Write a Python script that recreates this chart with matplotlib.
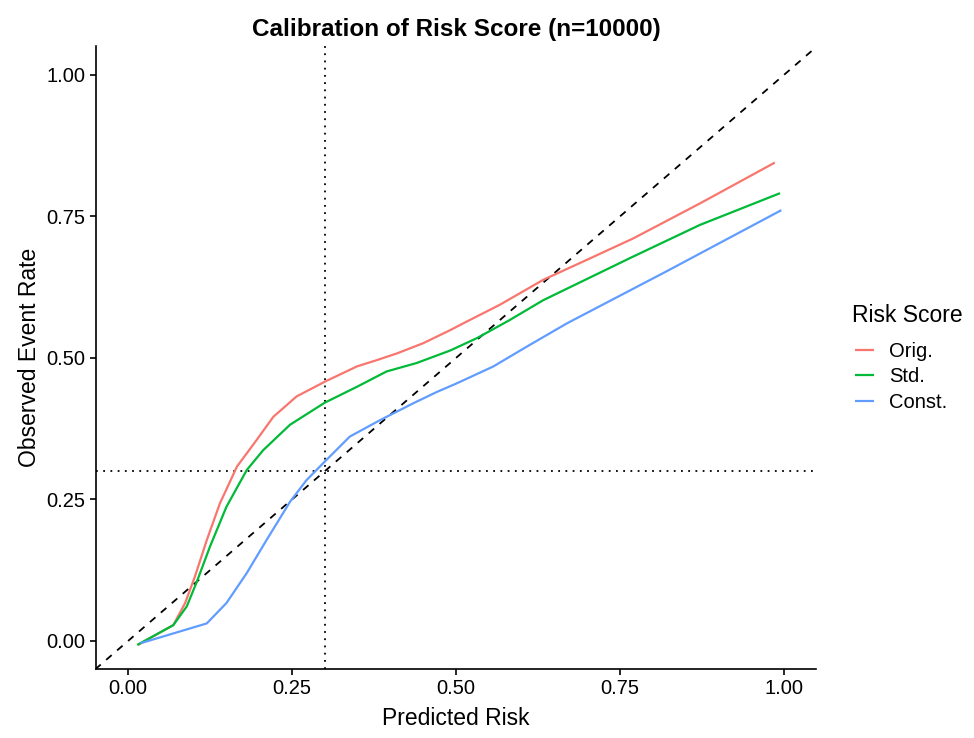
import matplotlib.pyplot as plt
import numpy as np

plt.rcParams['font.family'] = ['Liberation Sans', 'DejaVu Sans']

# Значения
orig_x = [0.015, 0.069, 0.087, 0.102, 0.120, 0.140, 0.166, 0.196, 0.2215, 0.257, 0.300,
          0.349, 0.379, 0.410, 0.450, 0.491, 0.516, 0.567, 0.633, 0.699, 0.770, 0.872, 0.986]
orig_y = [-0.007, 0.028, 0.067, 0.114, 0.178, 0.243, 0.308, 0.355, 0.396, 0.432, 0.458,
          0.485, 0.496, 0.508, 0.526, 0.549, 0.564, 0.594, 0.638, 0.673, 0.711, 0.773, 0.845]

std_x = [0.014, 0.069, 0.0895, 0.105, 0.125, 0.150, 0.181, 0.206, 0.247, 0.300, 0.349,
         0.394, 0.440, 0.491, 0.532, 0.582, 0.633, 0.770, 0.872, 0.994]
std_y = [-0.007, 0.028, 0.061, 0.105, 0.167, 0.237, 0.302, 0.337, 0.382, 0.421, 0.449,
         0.476, 0.491, 0.513, 0.535, 0.567, 0.602, 0.679, 0.735, 0.791]

const_x = [0.019, 0.120, 0.150, 0.181, 0.211, 0.247, 0.272, 0.300, 0.338, 0.384, 0.435,
           0.471, 0.501, 0.557, 0.608, 0.669, 0.821, 0.996]
const_y = [-0.004, 0.031, 0.067, 0.120, 0.178, 0.246, 0.284, 0.317, 0.361, 0.390, 0.420,
           0.440, 0.455, 0.485, 0.520, 0.561, 0.653, 0.761]

labels = ['Orig.', 'Std.', 'Const.']
colors = ['#F8766D', '#00BA38', '#619CFF']
ticks = [0.0, 0.25, 0.5, 0.75, 1.0]
tick_labels = ['0.00', '0.25', '0.50', '0.75', '1.00']
cutoff = 0.3

fig = plt.figure(figsize=(9.74, 7.38), dpi=100)
ax = fig.add_axes([0.0986, 0.0935, 0.7392, 0.8442])

xlim = (-0.0488, 1.0488)
ylim = (-0.0495, 1.051)
ax.plot([-0.1, 1.1], [-0.1, 1.1], color='black', ls=(0, (4, 4)), lw=1.3, zorder=1)
ax.axvline(cutoff, color='black', ls=(0, (1, 3)), lw=1.3, zorder=1)
ax.axhline(cutoff, color='black', ls=(0, (1, 3)), lw=1.3, zorder=1)

for xs, ys, lab, c in zip([orig_x, std_x, const_x], [orig_y, std_y, const_y], labels, colors):
    ax.plot(xs, ys, color=c, lw=1.6, label=lab, zorder=2,
            solid_joinstyle='round', solid_capstyle='butt')

ax.set_xlim(*xlim)
ax.set_ylim(*ylim)
ax.set_xticks(ticks)
ax.set_xticklabels(tick_labels)
ax.set_yticks(ticks)
ax.set_yticklabels(tick_labels)
for s in ['top', 'right']:
    ax.spines[s].set_visible(False)
for s in ['left', 'bottom']:
    ax.spines[s].set_linewidth(1.2)
ax.tick_params(axis='both', length=4.5, width=1.2, labelsize=14.5, colors='black', pad=3)

ax.set_xlabel('Predicted Risk', fontsize=16.5, labelpad=6)
ax.set_ylabel('Observed Event Rate', fontsize=16.5, labelpad=4)
ax.set_title('Calibration of Risk Score (n=10000)', fontsize=17.5, fontweight='bold', pad=7)

# заголовок легенды отдельно, чтобы выставить отступ как в оригинале
fig.text(852 / 974, 1 - 316 / 738, 'Risk Score', fontsize=16.5, ha='left', va='center')
leg = ax.legend(loc='center left', bbox_to_anchor=(855 / 974, 1 - 377 / 738),
                bbox_transform=fig.transFigure, borderpad=0, borderaxespad=0,
                frameon=False, fontsize=14.5, handlelength=0.95,
                handletextpad=0.75, labelspacing=0.32)
for h in leg.get_lines():
    h.set_linewidth(1.6)

fig.savefig('out.png', dpi=100)
